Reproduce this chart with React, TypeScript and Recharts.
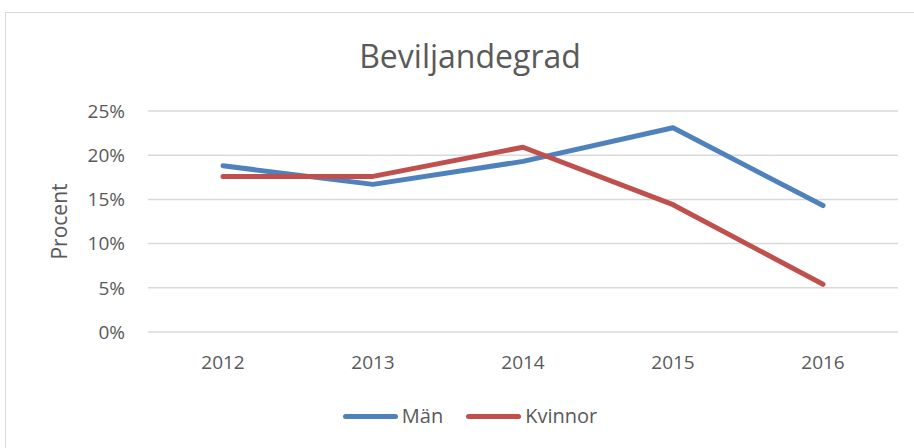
import React from "react"
import { LineChart, Line, XAxis, YAxis, CartesianGrid, Label } from "recharts"

const years = ["2012", "2013", "2014", "2015", "2016"]
const manValues = [18.8, 16.7, 19.3, 23.1, 14.3]
const kvinnorValues = [17.6, 17.6, 20.9, 14.4, 5.4]
const yTicks = [0, 5, 10, 15, 20, 25]

const series = [
  { key: "man", name: "Män", color: "#4F81BD" },
  { key: "kvinnor", name: "Kvinnor", color: "#C0504D" },
]

const data = years.map((year, i) => ({ year, man: manValues[i], kvinnor: kvinnorValues[i] }))

const FONT = "'Open Sans', sans-serif"
const TEXT = "#595959"

const ChartLegend = () => (
  <div style={{ position: "absolute", left: 0, top: 403, width: 940, display: "flex", justifyContent: "center", alignItems: "center", fontFamily: FONT, fontSize: 20, lineHeight: "26px", color: TEXT }}>
    {series.map((s, i) => (
      <div key={s.key} style={{ display: "flex", alignItems: "center", marginLeft: i ? 23 : 0 }}>
        <div style={{ width: 55, height: 5, borderRadius: 3, background: s.color, marginRight: 4 }} />
        <span>{s.name}</span>
      </div>
    ))}
  </div>
)

export default function App() {
  return (
    <div style={{ position: "absolute", left: 0, top: 0, width: 914, height: 448, background: "#fff", overflow: "hidden" }}>
      <div style={{ position: "absolute", left: 5, top: 12, width: 920, height: 460, border: "1px solid #d9d9d9" }} />
      <div style={{ position: "absolute", left: 0, top: 40, width: 940, textAlign: "center", fontFamily: FONT, fontSize: 32, lineHeight: "32px", color: TEXT }}>
        Beviljandegrad
      </div>
      <div style={{ position: "absolute", left: 0, top: 0 }}>
        <LineChart width={914} height={448} data={data} margin={{ top: 111, right: 16, bottom: 86, left: 50 }}>
          <CartesianGrid vertical={false} stroke="#d9d9d9" strokeWidth={1.5} />
          <XAxis
            dataKey="year"
            scale="point"
            padding={{ left: 75, right: 75 }}
            axisLine={false}
            tickLine={false}
            tickMargin={18}
            height={30}
            tick={{ fill: TEXT, fontSize: 19, fontFamily: FONT }}
          />
          <YAxis
            domain={[0, 25]}
            ticks={yTicks}
            tickFormatter={(v) => `${v}%`}
            axisLine={false}
            tickLine={false}
            tickMargin={17}
            width={98}
            tick={{ fill: TEXT, fontSize: 19, fontFamily: FONT }}
          >
            <Label value="Procent" angle={-90} position="insideLeft" offset={10} style={{ textAnchor: "middle", fill: TEXT, fontSize: 21, fontFamily: FONT }} />
          </YAxis>
          {series.map((s) => (
            <Line
              key={s.key}
              type="linear"
              dataKey={s.key}
              name={s.name}
              stroke={s.color}
              strokeWidth={5}
              strokeLinecap="round"
              strokeLinejoin="round"
              dot={false}
              activeDot={false}
              isAnimationActive={false}
            />
          ))}
        </LineChart>
      </div>
      <ChartLegend />
    </div>
  )
}
